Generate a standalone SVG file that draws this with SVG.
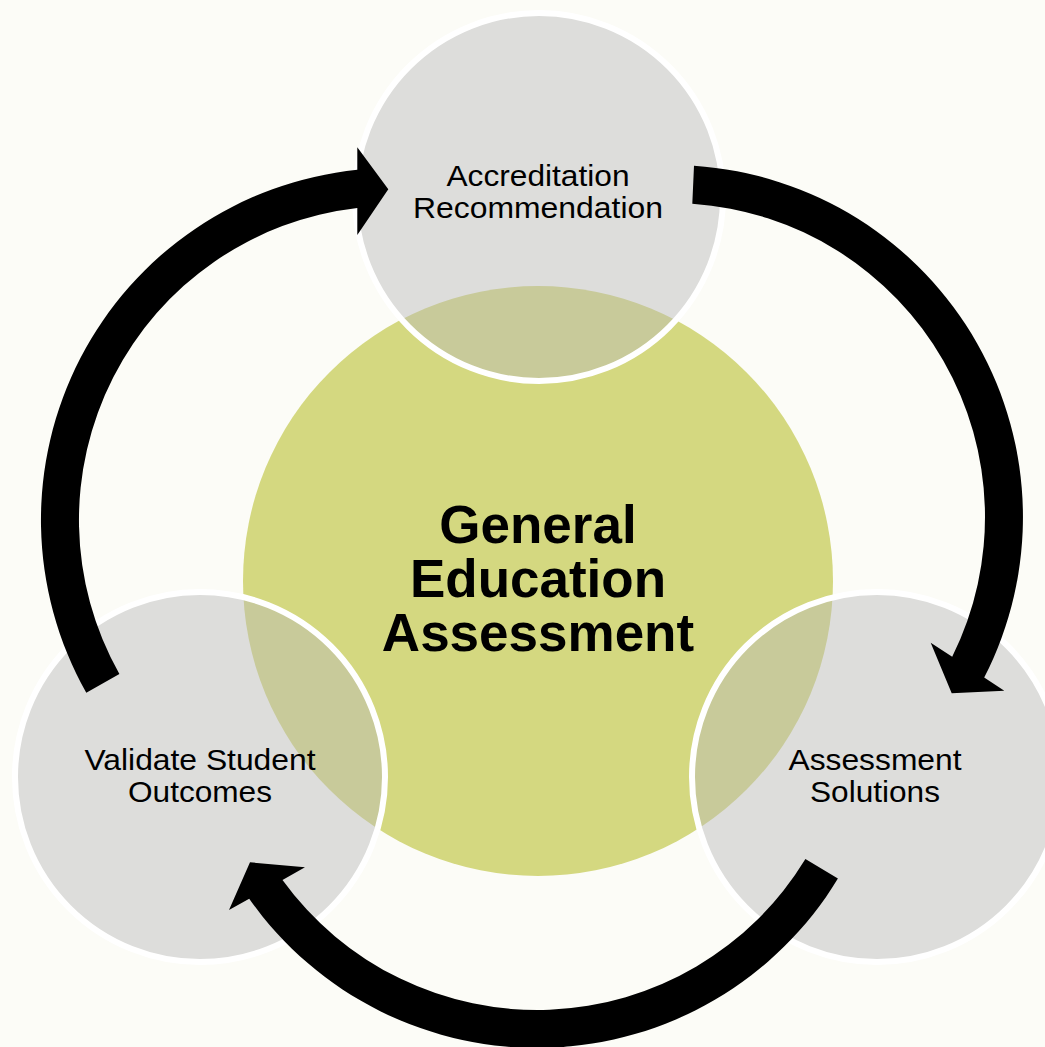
<svg xmlns="http://www.w3.org/2000/svg" width="1045" height="1047" viewBox="0 0 1045 1047">
<style>
.bg{fill:#FCFCF7}
.hub{fill:#D4D880}
.sat{fill:#BABABA;fill-opacity:0.46;stroke:#FFFFFF;stroke-width:6}
.arrow{fill:#000000}
.lbl{font-family:"Liberation Sans",Arial,sans-serif;font-size:29px;fill:#000000;text-anchor:middle}
.hubt{font-family:"Liberation Sans",Arial,sans-serif;font-size:53px;font-weight:bold;fill:#000000;text-anchor:middle}
</style>
<rect class="bg" x="0" y="0" width="1045" height="1047"/>
<g id="node-center">
<circle class="hub" cx="538" cy="581" r="295"/>
</g>
<g id="node-top">
<circle class="sat" cx="539" cy="197" r="184"/>
</g>
<g id="node-left">
<circle class="sat" cx="200" cy="777" r="185"/>
</g>
<g id="node-right">
<circle class="sat" cx="877" cy="777" r="185"/>
</g>
<g id="connectors">
<path class="arrow" d="M86.3,692.8 A352,352 0 0 1 357.3,169.8 L357.3,147.3 L388.3,189.3 L357.3,235 L357.3,208 A314,314 0 0 0 119.4,674.1 Z"/>
<path class="arrow" d="M694,165.8 A352,352 0 0 1 984.2,677.6 L1004.3,690.7 L951.7,693.3 L930.7,642.7 L952.2,656.7 A314,314 0 0 0 692.3,203.7 Z"/>
<path class="arrow" d="M837.9,878.6 A352,352 0 0 1 249.2,898.7 L229,910 L250,862.3 L305,867.3 L282.5,879.9 A314,314 0 0 0 805.4,858.9 Z"/>
</g>
<g id="labels">
<text class="lbl" x="538" y="186" textLength="183" lengthAdjust="spacingAndGlyphs">Accreditation</text>
<text class="lbl" x="538" y="218" textLength="250" lengthAdjust="spacingAndGlyphs">Recommendation</text>
<text class="lbl" x="200" y="770" textLength="231" lengthAdjust="spacingAndGlyphs">Validate Student</text>
<text class="lbl" x="200" y="802" textLength="144" lengthAdjust="spacingAndGlyphs">Outcomes</text>
<text class="lbl" x="875" y="770" textLength="173" lengthAdjust="spacingAndGlyphs">Assessment</text>
<text class="lbl" x="875" y="802" textLength="130" lengthAdjust="spacingAndGlyphs">Solutions</text>
<text class="hubt" x="538" y="543">General</text>
<text class="hubt" x="538" y="597">Education</text>
<text class="hubt" x="538" y="651">Assessment</text>
</g>
</svg>
